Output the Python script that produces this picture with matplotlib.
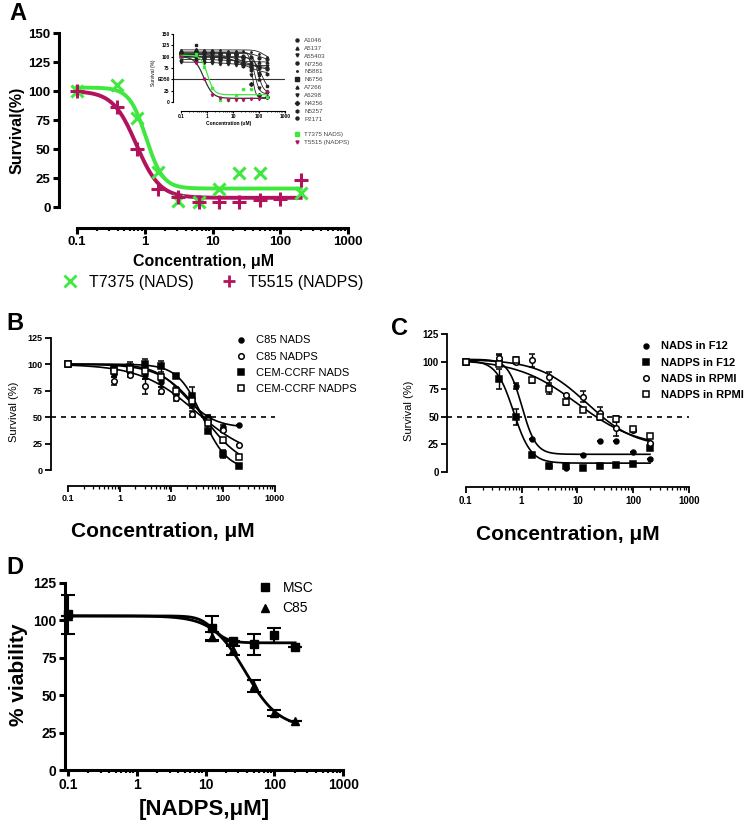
import numpy as np
import matplotlib
matplotlib.use("Agg")
import matplotlib.pyplot as plt
from matplotlib.lines import Line2D

plt.rcParams['font.family'] = ['Liberation Sans', 'DejaVu Sans']

# ---------------- data ----------------
conc = [0.1, 0.39, 0.78, 1.56, 3.125, 6.25, 12.5, 25, 50, 100, 200]

# panel A
a_nads_x = [0.1, 0.39, 0.78, 1.56, 3.125, 6.25, 12.5, 25, 50, 200]
a_nads_y = [100, 105, 77, 30, 5, 4, 16, 29, 29, 12]
a_nadps_y = [100, 86, 50, 16, 9, 4, 4, 4, 6, 7, 23]
# fit params: top, bottom, ic50, hill
a_nads_fit = [103, 16, 1.05, 3.5]
a_nadps_fit = [100, 8, 0.75, 2.5]

# inset of panel A (other cell lines)
inset_names = ['A1046', 'A5137', 'A55403', 'N7256', 'N5881', 'N6756',
               'A7266', 'A6298', 'N4256', 'N5257', 'P2171']
inset_markers = ['o', '^', 'v', 'o', '.', 's', '^', 'v', 'D', 'h', 'o']
inset_vals = [
    [105, 108, 106, 107, 105, 104, 103, 102, 100, 98, 95],
    [110, 112, 110, 108, 108, 106, 104, 100, 85, 50, 25],
    [100, 102, 100, 100, 98, 96, 95, 92, 60, 30, 20],
    [105, 104, 100, 98, 95, 92, 88, 82, 78, 75, 72],
    [115, 116, 114, 115, 114, 113, 113, 112, 110, 105, 100],
    [100, 125, 98, 100, 96, 97, 95, 93, 85, 60, 35],
    [95, 94, 93, 92, 92, 90, 90, 89, 89, 88, 88],
    [88, 88, 86, 85, 84, 83, 82, 82, 80, 80, 80],
    [110, 112, 110, 110, 108, 106, 105, 100, 40, 15, 12],
    [105, 104, 100, 97, 94, 88, 85, 80, 70, 65, 62],
    [100, 100, 98, 97, 95, 92, 90, 85, 80, 78, 76],
]
inset_fits = [
    [107, 94, 100, 3], [110, 20, 90, 4], [100, 18, 70, 5], [105, 70, 30, 1.2],
    [115, 95, 150, 3], [99, 25, 120, 3], [94, 88, 10, 1], [88, 80, 10, 1],
    [110, 10, 55, 7], [105, 60, 25, 1], [100, 75, 20, 1.2],
]

# panel B
conc_b = [0.1, 0.78, 1.56, 3.125, 6.25, 12.5, 25, 50, 100, 200]
c85_nads = [100, 91, 92, 90, 83, 72, 62, 50, 41, 43]
c85_nadps = [100, 84, 90, 79, 75, 68, 53, 47, 38, 24]
cem_nads = [100, 96, 97, 100, 98, 89, 70, 37, 15, 4]
cem_nadps = [100, 94, 95, 94, 88, 75, 65, 44, 28, 12]
c85_nads_err = [0, 3, 3, 4, 5, 3, 3, 2, 2, 0]
c85_nadps_err = [0, 4, 2, 7, 3, 3, 3, 2, 2, 0]
cem_nads_err = [0, 3, 5, 5, 5, 0, 8, 2, 4, 0]
cem_nadps_err = [0, 3, 3, 3, 3, 3, 3, 2, 2, 0]
c85_nads_fit = [100, 40, 18, 1.5]
c85_nadps_fit = [100, 10, 30, 0.8]
cem_nads_fit = [100, 0, 40, 1.8]
cem_nadps_fit = [100, 0, 42, 1.1]

# panel C
nads_f12 = [100, 101, 78, 30, 5, 4, 15, 28, 28, 18, 12]
nadps_f12 = [100, 84, 50, 15, 5, 5, 4, 5, 6, 7, 22]
nads_rpmi = [100, 103, 100, 101, 86, 70, 68, 53, 40, 38, 26]
nadps_rpmi = [100, 98, 101, 83, 75, 63, 56, 50, 48, 39, 33]
nads_f12_err = [0, 5, 3, 0, 0, 0, 0, 0, 0, 0, 0]
nadps_f12_err = [0, 9, 7, 0, 0, 0, 0, 0, 0, 0, 0]
nads_rpmi_err = [0, 4, 0, 6, 5, 0, 5, 6, 7, 0, 0]
nadps_rpmi_err = [0, 0, 3, 2, 4, 2, 0, 2, 3, 2, 0]
nads_f12_fit = [102, 16, 1.02, 3.5]
nadps_f12_fit = [101, 8, 0.72, 2.8]
nads_rpmi_fit = [102, 22, 15, 1.0]
nadps_rpmi_fit = [102, 22, 10, 0.8]

# panel D
conc_d = [0.1, 12.5, 25, 50, 100, 200]
msc = [104, 95, 86, 84, 90, 82]
msc_err = [13, 8, 0, 7, 5, 0]
c85 = [103, 89, 80, 56, 38, 33]
c85_err = [0, 3, 3, 4, 2, 0]
msc_fit = [103, 85, 13, 4]
c85_fit = [103, 28, 38, 1.8]

GREEN = '#3ee83e'
MAGENTA = '#b3135c'

xs = np.logspace(-1, np.log10(200), 300)
minor_ticks = [k * 10.0 ** e for e in range(-1, 3) for k in range(2, 10)]


def logistic(x, p):
    top, bottom, ic50, hill = p
    return bottom + (top - bottom) / (1 + (x / ic50) ** hill)


def prism(ax, xlo, ylo, ytop, yticks, lw, fs):
    ax.set_xscale('log')
    ax.set_xlim(xlo, 1000)
    ax.set_ylim(ylo, ytop)
    for s in ['top', 'right']:
        ax.spines[s].set_visible(False)
    ax.spines['left'].set_bounds(0, yticks[-1])
    ax.spines['bottom'].set_bounds(0.1, 1000)
    ax.spines['left'].set_linewidth(lw)
    ax.spines['bottom'].set_linewidth(lw)
    ax.set_xticks([0.1, 1, 10, 100, 1000])
    ax.set_xticklabels(['0.1', '1', '10', '100', '1000'])
    ax.set_xticks(minor_ticks, minor=True)
    ax.set_xticklabels([], minor=True)
    ax.set_yticks(yticks)
    ax.set_yticklabels([str(v) for v in yticks])
    ax.tick_params(which='major', width=lw, length=4, labelsize=fs, pad=2)
    ax.tick_params(which='minor', width=lw * 0.7, length=2.5)
    for lab in ax.get_xticklabels() + ax.get_yticklabels():
        lab.set_fontweight('bold')
    ax.patch.set_alpha(0)


W, H = 747, 827
fig = plt.figure(figsize=(W / 100, H / 100), dpi=100)


def box(l, r, t, b):
    return [l / W, 1 - b / H, (r - l) / W, (b - t) / H]


# ---------------- panel A ----------------
axA = fig.add_axes(box(59, 348, 33, 228))
prism(axA, 10 ** -1.266, -18, 150, [0, 25, 50, 75, 100, 125, 150], 2.2, 9.5)
axA.plot(xs, logistic(xs, a_nads_fit), color=GREEN, lw=2.8)
axA.plot(xs, logistic(xs, a_nadps_fit), color=MAGENTA, lw=2.8)
axA.plot(a_nads_x, a_nads_y, 'x', color=GREEN, ms=9, mew=2.2)
axA.plot(conc, a_nadps_y, '+', color=MAGENTA, ms=10, mew=2.2)
axA.set_ylabel('Survival(%)', fontsize=11.5, fontweight='bold', labelpad=3)
axA.set_xlabel('Concentration, μM', fontsize=11.5, fontweight='bold', labelpad=4)
fig.legend([Line2D([], [], ls='', marker='x', color=GREEN, ms=8, mew=2),
            Line2D([], [], ls='', marker='+', color=MAGENTA, ms=9, mew=2)],
           ['T7375 (NADS)', 'T5515 (NADPS)'], loc='center',
           bbox_to_anchor=(212 / W, 1 - 282 / H), ncol=2, frameon=False,
           fontsize=11.5, handletextpad=0.6, columnspacing=1.6,
           handlelength=1.2)

# inset
axI = fig.add_axes(box(173, 285, 34, 111))
prism(axI, 10 ** -1.31, -20, 150, [0, 25, 50, 75, 100, 125, 150], 0.8, 3.5)
axI.set_yticklabels(['0', '25', 'ED50', '75', '100', '125', '150'])
for lab in axI.get_yticklabels() + axI.get_xticklabels():
    lab.set_fontweight('bold')
axI.tick_params(which='major', length=1.5, pad=1)
axI.tick_params(which='minor', length=1)
axI.axhline(50, color='#333333', lw=0.8, xmin=0, xmax=1)
for vals, p, m in zip(inset_vals, inset_fits, inset_markers):
    axI.plot(xs, logistic(xs, p), color='#222222', lw=0.6)
    axI.plot(conc, vals, ls='', marker=m, color='#222222', ms=2)
axI.plot(xs, logistic(xs, a_nads_fit), color=GREEN, lw=0.9)
axI.plot(xs, logistic(xs, a_nadps_fit), color='#333333', lw=0.9)
axI.plot(a_nads_x, a_nads_y, 's', color=GREEN, ms=1.8)
axI.plot(conc, a_nadps_y, 'v', color=MAGENTA, ms=1.8)
axI.set_ylabel('Survival (%)', fontsize=3.5, labelpad=1)
axI.set_xlabel('Concentration (uM)', fontsize=3.5, fontweight='bold', labelpad=1)

inset_handles = [Line2D([], [], ls='', marker=m, color='#222222', ms=2.2)
                 for m in inset_markers]
inset_handles += [Line2D([], [], ls='')]
inset_handles += [Line2D([], [], ls='', marker='s', color=GREEN, ms=2.2),
                  Line2D([], [], ls='', marker='v', color=MAGENTA, ms=2.2)]
leg = fig.legend(inset_handles, inset_names + [''] + ['T7375 NADS)', 'T5515 (NADPS)'],
                 loc='upper left', bbox_to_anchor=(293 / W, 1 - 35 / H),
                 frameon=False, fontsize=4.5, labelspacing=0.4,
                 handlelength=0.6, handletextpad=0.8, borderaxespad=0)
for t in leg.get_texts():
    t.set_color('#444444')

# ---------------- panel B ----------------
axB = fig.add_axes(box(51, 274.7, 337.7, 485.7))
prism(axB, 10 ** -1.335, -14.8, 125, [0, 25, 50, 75, 100, 125], 1.3, 6.5)
axB.plot([10 ** -1.335, 1000], [50, 50], ls=(0, (3, 3)), color='black', lw=1.2)
b_series = [(c85_nads, c85_nads_err, c85_nads_fit, 'o', 'black', 3.5),
            (c85_nadps, c85_nadps_err, c85_nadps_fit, 'o', 'white', 4),
            (cem_nads, cem_nads_err, cem_nads_fit, 's', 'black', 4),
            (cem_nadps, cem_nadps_err, cem_nadps_fit, 's', 'white', 4)]
b_labels = ['C85 NADS', 'C85 NADPS', 'CEM-CCRF NADS', 'CEM-CCRF NADPS']
handles = []
for ys, err, p, m, fc, ms in b_series:
    axB.plot(xs, logistic(xs, p), color='black', lw=1.2)
    axB.errorbar(conc_b, ys, yerr=err, fmt=m, mfc=fc, mec='black', ms=ms,
                 mew=1.1, ecolor='black', elinewidth=1, capsize=2.5, capthick=1)
    handles.append(Line2D([], [], ls='', marker=m, mfc=fc, mec='black', ms=ms, mew=1.1))
axB.set_ylabel('Survival (%)', fontsize=8, labelpad=6)
axB.set_xlabel('Concentration, μM', fontsize=15, fontweight='bold', labelpad=14)
fig.legend(handles, b_labels, loc='upper left', bbox_to_anchor=(232 / W, 1 - 331 / H),
           frameon=False, fontsize=8, labelspacing=0.55, handlelength=0.8,
           handletextpad=1.0, borderaxespad=0)

# ---------------- panel C ----------------
axC = fig.add_axes(box(447.3, 689, 334, 487.3))
prism(axC, 10 ** -1.33, -13.9, 125, [0, 25, 50, 75, 100, 125], 1.3, 7)
axC.plot([10 ** -1.33, 1000], [50, 50], ls=(0, (3, 3)), color='black', lw=1.2)
c_series = [(nads_f12, nads_f12_err, nads_f12_fit, 'o', 'black', 3.5),
            (nadps_f12, nadps_f12_err, nadps_f12_fit, 's', 'black', 4),
            (nads_rpmi, nads_rpmi_err, nads_rpmi_fit, 'o', 'white', 4),
            (nadps_rpmi, nadps_rpmi_err, nadps_rpmi_fit, 's', 'white', 4.5)]
c_labels = ['NADS in F12', 'NADPS in F12', 'NADS in RPMI', 'NADPS in RPMI']
handles = []
for ys, err, p, m, fc, ms in c_series:
    axC.plot(xs, logistic(xs, p), color='black', lw=1.2)
    axC.errorbar(conc, ys, yerr=err, fmt=m, mfc=fc, mec='black', ms=ms,
                 mew=1.1, ecolor='black', elinewidth=1, capsize=2.5, capthick=1)
    handles.append(Line2D([], [], ls='', marker=m, mfc=fc, mec='black', ms=ms, mew=1.1))
axC.set_ylabel('Survival (%)', fontsize=8, labelpad=6)
axC.set_xlabel('Concentration, μM', fontsize=15, fontweight='bold', labelpad=14)
legC = fig.legend(handles, c_labels, loc='upper left',
                  bbox_to_anchor=(637 / W, 1 - 337 / H), frameon=False,
                  fontsize=8, labelspacing=0.55, handlelength=0.8,
                  handletextpad=1.0, borderaxespad=0)
for t in legC.get_texts():
    t.set_fontweight('bold')

# ---------------- panel D ----------------
axD = fig.add_axes(box(65, 343.3, 580, 770))
prism(axD, 10 ** -1.04, 0, 127, [0, 25, 50, 75, 100, 125], 2.2, 10)
axD.spines['left'].set_bounds(0, 125)
axD.plot(xs, logistic(xs, msc_fit), color='black', lw=2)
axD.plot(xs, logistic(xs, c85_fit), color='black', lw=2)
axD.errorbar(conc_d, msc, yerr=msc_err, fmt='s', color='black', ms=6,
             elinewidth=1.5, capsize=5, capthick=1.5, clip_on=False)
axD.errorbar(conc_d, c85, yerr=c85_err, fmt='^', color='black', ms=6,
             elinewidth=1.5, capsize=5, capthick=1.5, clip_on=False)
axD.set_ylabel('% viability', fontsize=15, fontweight='bold', labelpad=4)
axD.set_xlabel('[NADPS,μM]', fontsize=16, fontweight='bold', labelpad=5)
fig.legend([Line2D([], [], ls='', marker='s', color='black', ms=6),
            Line2D([], [], ls='', marker='^', color='black', ms=6)],
           ['MSC', 'C85'], loc='upper left', bbox_to_anchor=(252 / W, 1 - 575 / H),
           frameon=False, fontsize=10, labelspacing=0.5, handlelength=1.0,
           handletextpad=0.8, borderaxespad=0)

# panel letters
for letter, x, y in [('A', 9, 20), ('B', 6, 330), ('C', 391, 335), ('D', 6, 574)]:
    fig.text(x / W, 1 - y / H, letter, fontsize=17, fontweight='bold')

fig.savefig('out.png', dpi=100)
